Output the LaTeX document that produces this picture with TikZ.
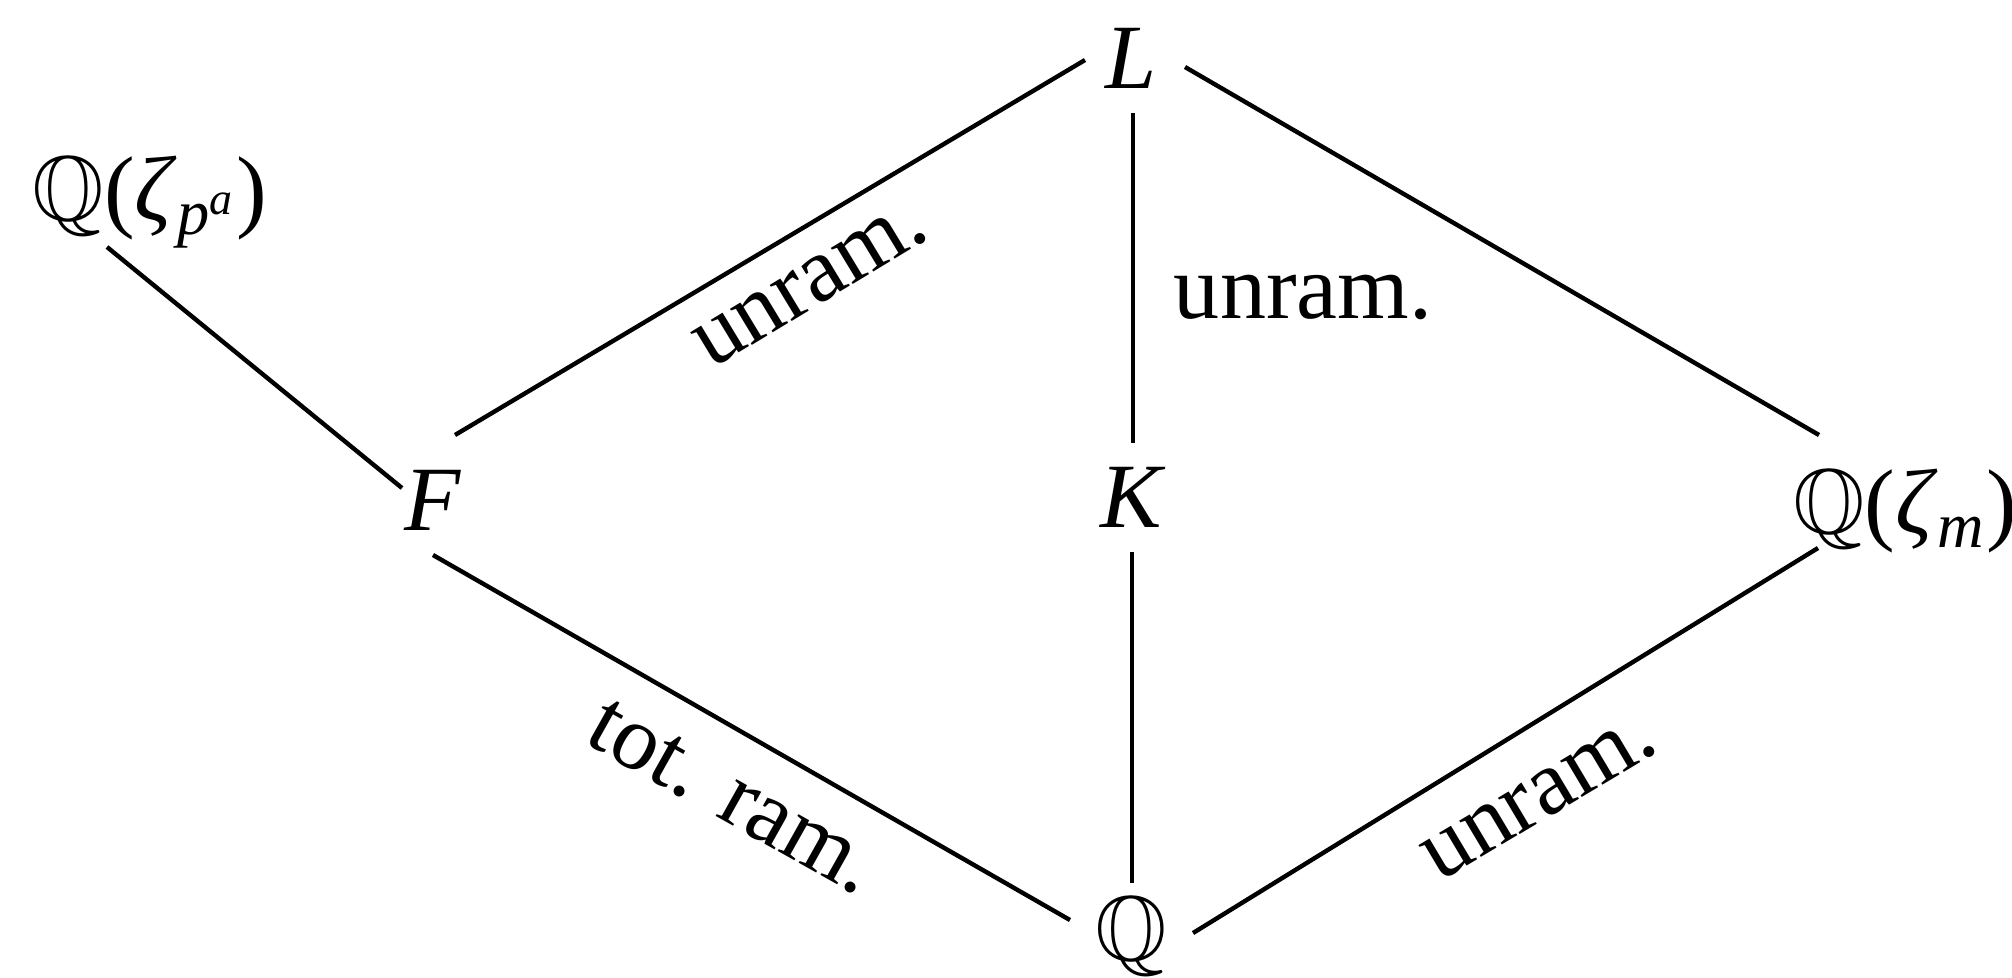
\documentclass[tikz,border=0pt]{standalone}
\usepackage{amsmath,amssymb}
\usepackage{fontspec}
\setmainfont{Liberation Serif}
\begin{document}
\begin{tikzpicture}[x=0.25pt,y=-0.25pt,
  fld/.style={anchor=base,inner sep=0pt,font=\fontsize{23}{27}\selectfont},
  lbl/.style={inner sep=0pt,font=\fontsize{23}{27}\selectfont},
  edge/.style={line width=1.1pt}]
\useasboundingbox (0,0) rectangle (2012,977);
% fields
\node[fld] (L)  at (1131,88)  {\textit{L}};
\node[fld] (Zp) at (150,220)  {$\mathbb{Q}$(\textit{ζ}$_{\textit{p}^{\textit{a}}}$)};
\node[fld] (F)  at (433,530)  {\textit{F}};
\node[fld] (K)  at (1133,527) {\textit{K}};
\node[fld] (Zm) at (1905,533) {$\mathbb{Q}$(\textit{ζ}$_{\textit{m}}$)};
\node[fld] (Q)  at (1131,960) {$\mathbb{Q}$};
% connectors
\draw[edge] ([shift={(-46,-28)}]L.base) -- ([shift={(22,-95)}]F.base);
\draw[edge] ([shift={(54,-21)}]L.base) -- ([shift={(-86,-98)}]Zm.base);
\draw[edge] ([shift={(2,25)}]L.base) -- ([shift={(0,-84)}]K.base);
\draw[edge] ([shift={(-1,25)}]K.base) -- ([shift={(1,-77)}]Q.base);
\draw[edge] ([shift={(0,25)}]F.base) -- ([shift={(-61,-40)}]Q.base);
\draw[edge] ([shift={(62,-27)}]Q.base) -- ([shift={(-87,15)}]Zm.base);
\draw[edge] ([shift={(-43,27)}]Zp.base) -- ([shift={(-31,-42)}]F.base);
% labels
\node[lbl,rotate=31.2]  (u1) at (811,285)  {unram.};
\node[lbl,anchor=base]  (u2) at (1303,318) {unram.};
\node[lbl,rotate=-29.3] (tr) at (733,797)  {tot. ram.};
\node[lbl,rotate=30.8]  (u3) at (1540,798) {unram.};
\end{tikzpicture}
\end{document}
